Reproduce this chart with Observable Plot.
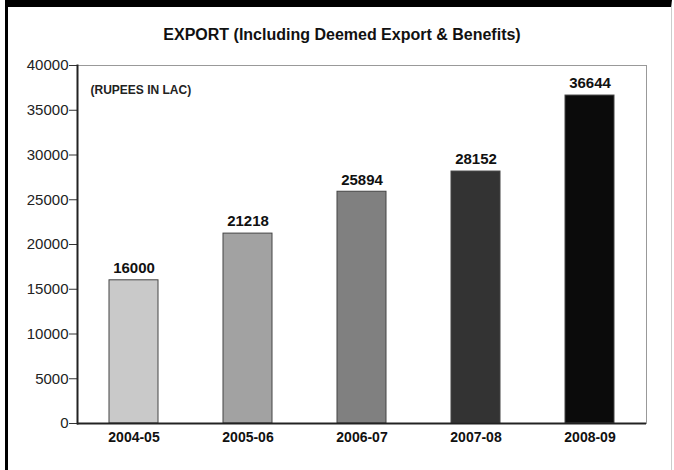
<!DOCTYPE html>
<html>
<head>
<meta charset="utf-8">
<script src="https://cdn.jsdelivr.net/npm/d3@7"></script>
<script src="https://cdn.jsdelivr.net/npm/@observablehq/plot@0.6"></script>
<style>
  html, body { margin: 0; padding: 0; background: #fff; }
  #page { position: relative; width: 674px; height: 470px; overflow: hidden; font-family: "Liberation Sans", Arial, sans-serif; }
  #border { position: absolute; left: 5px; top: 0; width: 667px; height: 470px; box-sizing: border-box;
            border-top: 7px solid #000; border-left: 3px solid #000; border-right: 1px solid #ccc; }
  #title { position: absolute; left: 0; width: 684px; top: 26px; text-align: center; font-weight: bold; font-size: 16px; line-height: 18px; color: #111; }
  #chart { position: absolute; left: 0; top: 0; }
</style>
</head>
<body>
<div id="page">
  <div id="border"></div>
  <div id="title">EXPORT (Including Deemed Export &amp; Benefits)</div>
  <div id="chart"></div>
</div>
<script>
const years = ["2004-05", "2005-06", "2006-07", "2007-08", "2008-09"];
const values = [16000, 21218, 25894, 28152, 36644];
const barColors = ["#c9c9c9", "#a2a2a2", "#808080", "#333333", "#0b0b0b"];
const yTicks = [0, 5000, 10000, 15000, 20000, 25000, 30000, 35000, 40000];
const unitNote = "(RUPEES IN LAC)";

const data = years.map((y, i) => ({year: y, value: values[i], color: barColors[i]}));

const chart = Plot.plot({
  width: 674,
  height: 470,
  marginLeft: 77,
  marginRight: 28,
  marginTop: 65,
  marginBottom: 47,
  style: {fontFamily: "Liberation Sans, Arial, sans-serif", background: "transparent", color: "#111"},
  x: {domain: years, paddingInner: 0.57, paddingOuter: 0.27, label: null},
  y: {domain: [0, 40000], label: null},
  color: {type: "identity"},
  marks: [
    Plot.frame({stroke: "#999", strokeWidth: 1}),
    Plot.barY(data, {x: "year", y: "value", fill: "color", stroke: "#444", strokeWidth: 1}),
    Plot.text(data, {x: "year", y: "value", text: d => String(d.value), dy: -12, fontWeight: "bold", fontSize: 15, fill: "#111"}),
    Plot.text([unitNote], {frameAnchor: "top-left", dx: 13, dy: 20, fontSize: 12, fontWeight: "bold", fill: "#222"}),
    Plot.axisY({ticks: yTicks, tickSize: 8, tickPadding: 1, fontSize: 15, tickFormat: d => String(d), fill: "#222", stroke: "#333", label: null}),
    Plot.axisX({tickSize: 0, tickPadding: 9, fontSize: 14, fontWeight: "bold", fill: "#111", label: null}),
    Plot.ruleY([0], {stroke: "#222", strokeWidth: 2}),
    Plot.frame({anchor: "left", stroke: "#222", strokeWidth: 2})
  ]
});
document.getElementById("chart").appendChild(chart);
</script>
</body>
</html>
